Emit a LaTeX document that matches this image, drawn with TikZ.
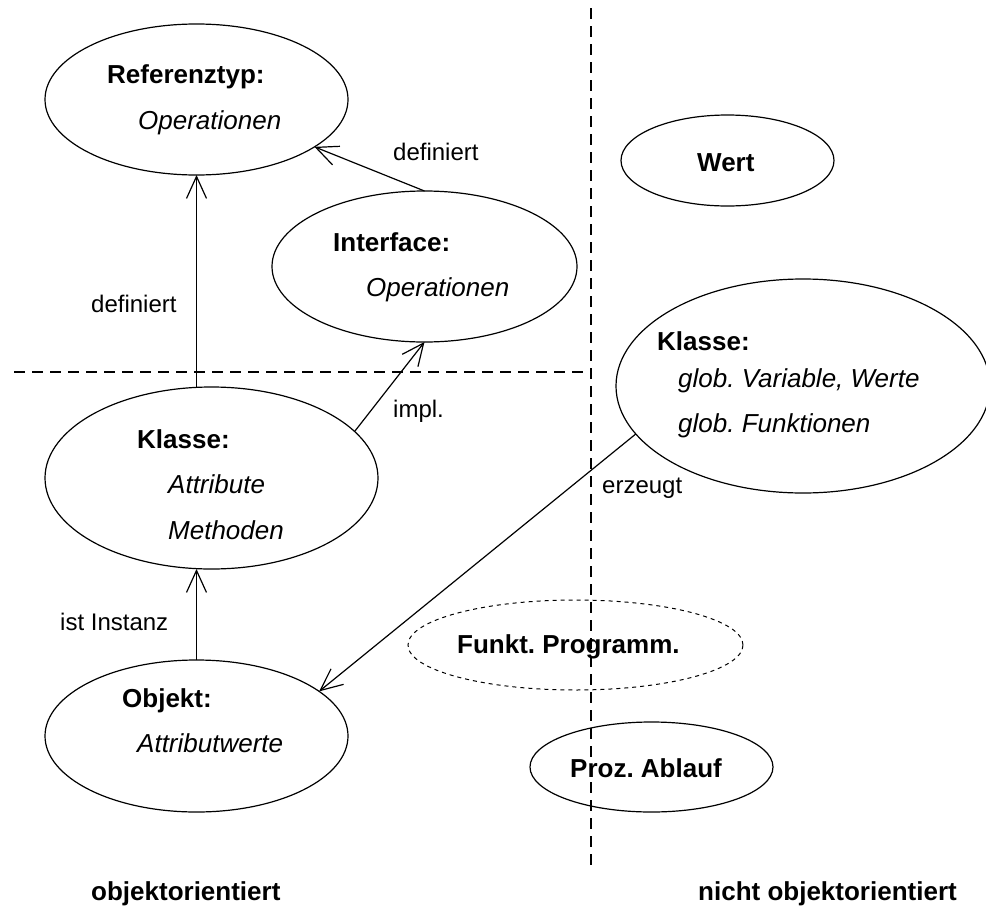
\documentclass[tikz,border=0pt]{standalone}
\usepackage{fontspec}
\setmainfont{Liberation Sans}
\usetikzlibrary{shapes.geometric,arrows.meta}
\frenchspacing

\begin{document}
\begin{tikzpicture}[x=1pt,y=-1pt,
  oval/.style={draw, ellipse, line width=1.2pt, inner sep=0pt, outer sep=0pt},
  dottedoval/.style={oval, dash pattern=on 4pt off 4pt, line width=1pt},
  head/.style={anchor=base west, inner sep=0pt, font=\fontsize{26}{31}\selectfont\bfseries},
  body/.style={anchor=base west, inner sep=0pt, font=\fontsize{26}{31}\selectfont\itshape},
  lbl/.style={anchor=base west, inner sep=0pt, font=\fontsize{24}{29}\selectfont},
  rel/.style={line width=1.2pt, -{Straight Barb[length=22pt,width=20pt]}},
  divider/.style={line width=1.2pt, dash pattern=on 11pt off 7pt},
]
\useasboundingbox (0,0) rectangle (986,924);
\clip (0,0) rectangle (986,924);

% separating lines
\coordinate (vtop) at (591,8);
\coordinate (vbot) at (591,868);
\coordinate (hleft) at (14,372);
\coordinate (hright) at (591,372);
\draw[divider] (vtop) -- (vbot);
\draw[divider] (hleft) -- (hright);

% ovals
\node[oval, minimum width=303pt, minimum height=151pt] (ref)    at (196.5,99.5) {};
\node[oval, minimum width=305pt, minimum height=151pt] (intf)   at (424.5,266.5) {};
\node[oval, minimum width=213pt, minimum height=91pt]  (wert)   at (727.5,160.5) {};
\node[oval, minimum width=374pt, minimum height=214pt] (klasseR) at (803,386) {};
\node[oval, minimum width=333pt, minimum height=182pt] (klasseL) at (211.5,478) {};
\node[oval, minimum width=303pt, minimum height=152pt] (obj)    at (196.5,736) {};
\node[dottedoval, minimum width=335pt, minimum height=90pt] (funkt) at (575.5,645) {};
\node[oval, minimum width=243pt, minimum height=90pt]  (proz)   at (651.5,767) {};

% oval contents
\node[head] (refT)  at (107,83)  {Referenztyp:};
\node[body] (refO)  at (138,129) {Operationen};
\node[head] (intfT) at (333,251) {Interface:};
\node[body] (intfO) at (366,296) {Operationen};
\node[head] (wertT) at (697,171) {Wert};
\node[head] (krT)   at (657,350) {Klasse:};
\node[body] (krA)   at (678,387) {glob. Variable, Werte};
\node[body] (krB)   at (678,432) {glob. Funktionen};
\node[head] (klT)   at (137,448) {Klasse:};
\node[body] (klA)   at (168,493) {Attribute};
\node[body] (klB)   at (168,539) {Methoden};
\node[head] (objT)  at (122,707) {Objekt:};
\node[body] (objA)  at (137,752) {Attributwerte};
\node[head] (funktT) at (457,653) {Funkt. Programm.};
\node[head] (prozT) at (570,777) {Proz. Ablauf};

% relations
\draw[rel] (klasseL.north -| ref.south) -- (ref.south);
\draw[rel] (intf.north) -- (ref);
\draw[rel] (klasseL.18) -- (intf.south);
\draw[rel] (obj.north) -- (klasseL.south -| obj.north);
\draw[rel] (klasseR.196) -- (obj.20.7);

% relation labels
\node[lbl] (l1) at (91,312)  {definiert};
\node[lbl] (l2) at (393,160) {definiert};
\node[lbl] (l3) at (393,417) {impl.};
\node[lbl] (l4) at (60,630)  {ist Instanz};
\node[lbl] (l5) at (602,493) {erzeugt};

% region captions
\node[head] (capL) at (91,900)  {objektorientiert};
\node[head] (capR) at (698,900) {nicht objektorientiert};
\end{tikzpicture}
\end{document}
